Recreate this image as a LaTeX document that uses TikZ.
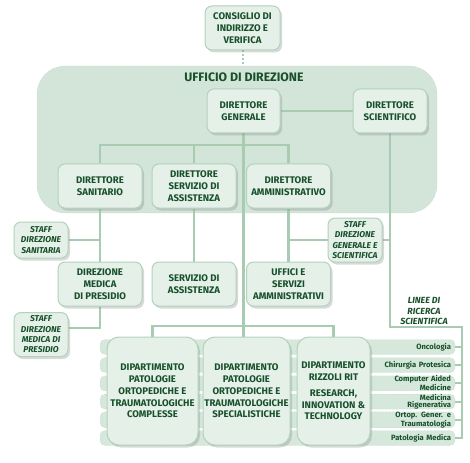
\documentclass[tikz,border=0pt]{standalone}
\usepackage{fontspec}
\setmainfont{Fira Sans}
\usetikzlibrary{shadows}

\definecolor{txtgreen}{HTML}{17502A}
\definecolor{boxfill}{HTML}{E5F0E9}
\definecolor{boxline}{HTML}{B2D2BC}
\definecolor{linkgreen}{HTML}{A8CCB2}
\definecolor{areafill}{HTML}{D3E4D9}
\definecolor{stripefill}{HTML}{D6E7DB}

\pgfdeclarelayer{back}
\pgfdeclarelayer{mid}
\pgfsetlayers{back,mid,main}

\tikzset{
  unit/.style={draw=boxline, line width=1pt, fill=boxfill, rounded corners=7pt,
    align=center, text=txtgreen, inner sep=1pt,
    font=\fontsize{9.6}{11.8}\selectfont\bfseries,
    drop shadow={opacity=0.3, shadow xshift=2pt, shadow yshift=-2.5pt}},
  staffbox/.style={unit, font=\fontsize{8.5}{10.3}\selectfont\bfseries\itshape,
    minimum width=54pt},
  deptbox/.style={unit, rounded corners=12pt, minimum height=108pt,
    font=\fontsize{9.6}{11.7}\selectfont\bfseries},
  stripe/.style={draw=boxline, densely dotted, fill=stripefill, rounded corners=5pt,
    minimum width=355pt, minimum height=15pt, inner xsep=4pt, inner ysep=0pt,
    text width=347pt, align=right, text=txtgreen,
    font=\fontsize{7.6}{6.6}\selectfont\bfseries},
  link/.style={draw=linkgreen, line width=2.5pt},
}

\begin{document}
\begin{tikzpicture}[x=1pt, y=-1pt]
    \useasboundingbox (0,0) rectangle (470,462);

    % ufficio di direzione
    \begin{pgfonlayer}{back}
    \node[draw=boxline, densely dotted, fill=areafill, rounded corners=28pt,
        minimum width=400pt, minimum height=147pt] (area) at (237,139.5) {};
    \end{pgfonlayer}
    \node[text=txtgreen, font=\fontsize{12.3}{14}\selectfont\bfseries] (uff-title) at (244,77) {UFFICIO DI DIREZIONE};

    \node[unit, minimum width=75pt, minimum height=44pt] (cons) at (242.5,28) {CONSIGLIO DI\\INDIRIZZO E\\VERIFICA};
    \node[unit, minimum width=73pt, minimum height=44pt] (dg) at (243.5,111) {DIRETTORE\\GENERALE};
    \node[unit, minimum width=74pt, minimum height=44pt] (ds) at (390,111) {DIRETTORE\\SCIENTIFICO};

    \node[unit, minimum width=84pt, minimum height=44pt] (dsan) at (100,186) {DIRETTORE\\SANITARIO};
    \node[unit, minimum width=84pt, minimum height=44pt] (dserv) at (194,186) {DIRETTORE\\SERVIZIO DI\\ASSISTENZA};
    \node[unit, minimum width=84pt, minimum height=44pt] (damm) at (288.5,186) {DIRETTORE\\AMMINISTRATIVO};

    \node[unit, minimum width=84pt, minimum height=44pt] (dmed) at (100,284) {DIREZIONE\\MEDICA\\DI PRESIDIO};
    \node[unit, minimum width=84pt, minimum height=44pt] (sass) at (194,284) {SERVIZIO DI\\ASSISTENZA};
    \node[unit, minimum width=84pt, minimum height=44pt] (uff) at (288.5,284) {UFFICI E\\SERVIZI\\AMMINISTRATIVI};

    \node[staffbox, minimum height=36pt] (staff1) at (41,240) {STAFF\\DIREZIONE\\SANITARIA};
    \node[staffbox, minimum height=44pt] (staff2) at (41,334.5) {STAFF\\DIREZIONE\\MEDICA DI\\PRESIDIO};
    \node[staffbox, minimum height=44pt] (staff3) at (355,240) {STAFF\\DIREZIONE\\GENERALE E\\SCIENTIFICA};

    \node[text=txtgreen, align=center, font=\fontsize{8.9}{10.8}\selectfont\bfseries\itshape] (linee) at (424,311) {LINEE DI\\RICERCA\\SCIENTIFICA};

    % righe delle linee di ricerca
    \begin{pgfonlayer}{back}
    \foreach \i/\lab [evaluate=\i as \yy using 347+18.2*(\i-1)] in
        {1/Oncologia, 2/Chirurgia Protesica, 3/{Computer Aided\\Medicine},
         4/{Medicina\\Rigenerativa}, 5/{Ortop. Gener. e\\Traumatologia}, 6/Patologia Medica}
        \node[stripe] (r\i) at (277.5,\yy) {\lab};
    \end{pgfonlayer}

    \node[deptbox, minimum width=91pt] (dep1) at (152.5,391) {DIPARTIMENTO\\PATOLOGIE\\ORTOPEDICHE E\\TRAUMATOLOGICHE\\COMPLESSE};
    \node[deptbox, minimum width=87pt] (dep2) at (246.5,391) {DIPARTIMENTO\\PATOLOGIE\\ORTOPEDICHE E\\TRAUMATOLOGICHE\\SPECIALISTICHE};
    \node[deptbox, minimum width=73pt] (dep3) at (333.5,391) {DIPARTIMENTO\\RIZZOLI RIT\\[4pt]RESEARCH,\\INNOVATION \&\\TECHNOLOGY};

    \coordinate (topbar) at (243.5,145);
    \coordinate (depbar) at (243.5,326);
    \coordinate (rbend) at (390,327);
    \coordinate (rtop) at (462,327);

    \begin{pgfonlayer}{mid}
    \draw[linkgreen, line width=2pt, dotted] (cons.south) -- (area.north -| cons.south);
    \draw[link] (dg.east) -- (ds.west);
    \draw[link] (dg.south) -- (depbar);
    \draw[link] (dsan.north) |- (topbar) -| (damm.north);
    \draw[link] (dserv.north) -- (dserv.north |- topbar);

    \draw[link] (dsan.south) -- (dmed.north);
    \draw[link] (staff1.east) -- (staff1.east -| dsan.south);
    \draw[link] (dmed.south) |- ([yshift=6.5pt]staff2.east);
    \draw[link] (dserv.south) -- (sass.north);
    \draw[link] (damm.south) -- (uff.north);
    \draw[link] (damm.south |- staff3.west) -- (staff3.west);
    \draw[link] (staff3.east) -- (ds.south |- staff3.east);

    \draw[link] (dep1.north) |- (depbar) -| (dep3.north);
    \draw[link] (depbar) -- (depbar |- dep2.north);

    \draw[link, line width=2pt] (ds.south) -- (rbend) -- (rtop) -- (rtop |- r6.east) -- (r6.east);
    \foreach \i in {1,...,5}
        \draw[link, line width=2pt] (r\i.east) -- (rtop |- r\i.east);
    \end{pgfonlayer}
\end{tikzpicture}
\end{document}
